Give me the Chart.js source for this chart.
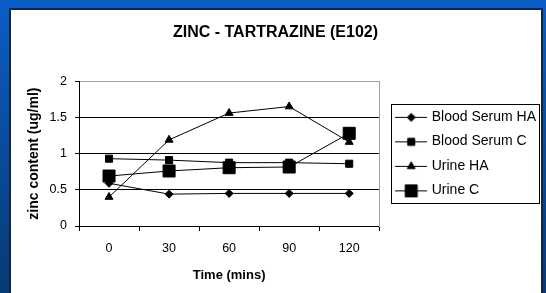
<!DOCTYPE html>
<html>
<head>
<meta charset="utf-8">
<script src="https://cdn.jsdelivr.net/npm/chart.js@4/dist/chart.umd.min.js"></script>
<style>
  body { margin: 0; }
  #wrap { width: 546px; height: 293px; }
</style>
</head>
<body>
<div id="wrap"><canvas id="zincChart"></canvas></div>
<script>
const times = ['0', '30', '60', '90', '120'];
const bloodSerumHA = [0.59, 0.44, 0.45, 0.45, 0.45];
const bloodSerumC = [0.93, 0.91, 0.875, 0.875, 0.86];
const urineHA = [0.40, 1.19, 1.56, 1.65, 1.16];
const urineC = [0.69, 0.76, 0.805, 0.815, 1.28];
const seriesNames = ['Blood Serum HA', 'Blood Serum C', 'Urine HA', 'Urine C'];

const FONT = 'Liberation Sans, Arial, sans-serif';

// marker look per series (style, radius)
const markers = [
    ['rectRot', 4],
    ['rect', 5],
    ['triangle', 4.6],
    ['rect', 8.5]
];

// little line + marker pictures for the legend
function makeLegendIcon(style, radius) {
    const c = document.createElement('canvas');
    c.width = 32;
    c.height = 18;
    const g = c.getContext('2d');
    g.strokeStyle = '#000';
    g.fillStyle = '#000';
    g.lineWidth = 1;
    g.beginPath();
    g.moveTo(0, 9.5);
    g.lineTo(32, 9.5);
    g.stroke();
    Chart.helpers.drawPoint(g, {pointStyle: style, radius: radius, borderWidth: 1, rotation: 0}, 16, 9.5);
    return c;
}
const legendIcons = markers.map(m => makeLegendIcon(m[0], m[1]));

const slideBackground = {
    id: 'slideBackground',
    beforeDraw(chart) {
        const {ctx, width, height} = chart;
        ctx.save();
        const g = ctx.createLinearGradient(0, 0, 0, height);
        g.addColorStop(0, '#0b5dc6');
        g.addColorStop(1, '#073a74');
        ctx.fillStyle = g;
        ctx.fillRect(0, 0, width, height);
        ctx.fillStyle = '#ffffff';
        ctx.fillRect(10, 9, 532, height);
        ctx.strokeStyle = '#14243a';
        ctx.lineWidth = 2;
        ctx.strokeRect(10, 9, 532, height + 10);
        ctx.restore();
    }
};

const legendFrame = {
    id: 'legendFrame',
    afterDraw(chart) {
        const boxes = chart.legend.legendHitBoxes;
        if (!boxes || !boxes.length) return;
        const ctx = chart.ctx;
        const left = Math.min(...boxes.map(b => b.left)) - 7;
        const right = Math.max(...boxes.map(b => b.left + b.width)) + 3;
        const top = boxes[0].top - 6;
        const bottom = boxes[boxes.length - 1].top + boxes[boxes.length - 1].height + 5;
        ctx.save();
        ctx.strokeStyle = '#000';
        ctx.lineWidth = 1;
        ctx.strokeRect(Math.round(left) + 0.5, Math.round(top) + 0.5, Math.round(right - left), Math.round(bottom - top));
        ctx.restore();
    }
};

const datasets = [bloodSerumHA, bloodSerumC, urineHA, urineC].map((vals, i) => ({
    label: seriesNames[i],
    data: vals,
    borderColor: '#000',
    backgroundColor: '#000',
    borderWidth: 1,
    pointStyle: markers[i][0],
    pointRadius: markers[i][1],
    pointBorderWidth: 1,
    pointBackgroundColor: '#000',
    pointBorderColor: '#000',
    tension: 0
}));

new Chart(document.getElementById('zincChart'), {
    type: 'line',
    data: {labels: times, datasets: datasets},
    plugins: [slideBackground, legendFrame],
    options: {
        responsive: true,
        maintainAspectRatio: false,
        animation: false,
        events: [],
        layout: {padding: {left: 5, right: 0, top: 0, bottom: 8}},
        plugins: {
            title: {
                display: true,
                text: 'ZINC - TARTRAZINE (E102)',
                color: '#000',
                font: {family: FONT, size: 16, weight: 'bold'},
                padding: {top: 23, bottom: 39}
            },
            legend: {
                position: 'right',
                fullSize: false,
                align: 'center',
                maxWidth: 180,
                labels: {
                    color: '#000',
                    font: {family: FONT, size: 14},
                    usePointStyle: true,
                    pointStyleWidth: 27,
                    padding: 10.5,
                    generateLabels(chart) {
                        return chart.data.datasets.map((ds, i) => ({
                            text: ds.label,
                            pointStyle: legendIcons[i],
                            fillStyle: '#000',
                            strokeStyle: '#000',
                            fontColor: '#000',
                            lineWidth: 0,
                            hidden: false,
                            datasetIndex: i
                        }));
                    }
                }
            },
            tooltip: {enabled: false}
        },
        scales: {
            x: {
                offset: true,
                grid: {offset: true, drawOnChartArea: false, tickLength: 5, tickColor: '#000'},
                border: {color: '#000'},
                ticks: {color: '#000', font: {family: FONT, size: 12.5}, padding: 10},
                title: {
                    display: true,
                    text: 'Time (mins)',
                    color: '#000',
                    font: {family: FONT, size: 13, weight: 'bold'},
                    padding: {top: 0, bottom: 2}
                },
                afterFit(scale) { scale.height = 59; }
            },
            y: {
                min: 0,
                max: 2,
                ticks: {
                    stepSize: 0.5,
                    color: '#000',
                    font: {family: FONT, size: 12.5},
                    padding: 8,
                    callback: v => String(v)
                },
                grid: {
                    color: c => (c.tick && c.tick.value === 2) ? '#a0a0a0' : '#000',
                    tickColor: '#000',
                    tickLength: 4
                },
                border: {color: '#000'},
                title: {
                    display: true,
                    text: 'zinc content (ug/ml)',
                    color: '#000',
                    font: {family: FONT, size: 14, weight: 'bold'},
                    padding: {top: 21, bottom: 0}
                },
                afterFit(scale) { scale.width = 74; }
            },
            y2: {
                position: 'right',
                min: 0,
                max: 2,
                ticks: {display: false},
                grid: {display: false},
                border: {color: '#a0a0a0'},
                afterFit(scale) { scale.width = 8; }
            }
        }
    }
});
</script>
</body>
</html>
